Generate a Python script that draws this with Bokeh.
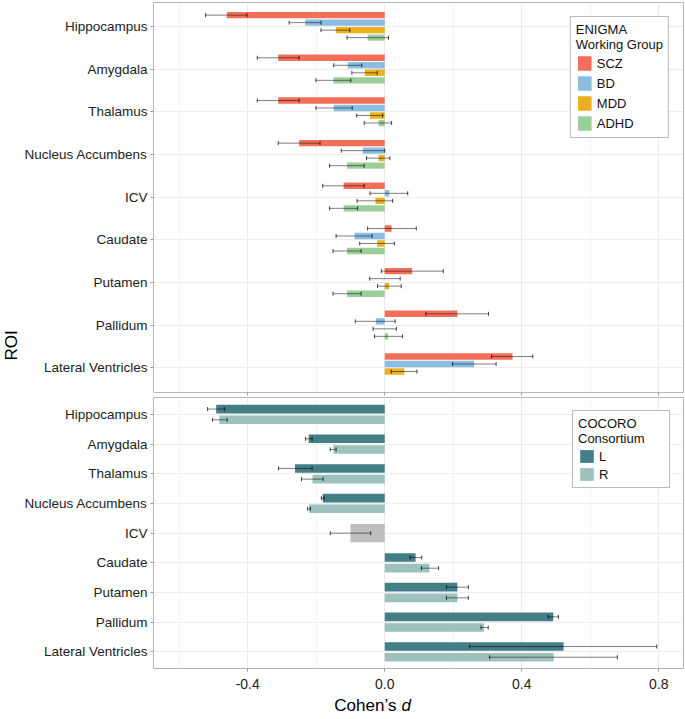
import math
from bokeh.plotting import figure
from bokeh.models import (ColumnDataSource, Range1d, FixedTicker, Whisker, TeeHead,
                          NumeralTickFormatter)
from bokeh.core.properties import value
from bokeh.layouts import column, row
from bokeh.embed import file_html
from bokeh.resources import INLINE

# ---------------- data ----------------
rois = ["Hippocampus", "Amygdala", "Thalamus", "Nucleus Accumbens", "ICV",
        "Caudate", "Putamen", "Pallidum", "Lateral Ventricles"]

enigma_groups = ["SCZ", "BD", "MDD", "ADHD"]
scz_d  = [-0.461, -0.311, -0.311, -0.250, -0.120, 0.020, 0.080, 0.212, 0.373]
scz_lo = [-0.523, -0.372, -0.372, -0.311, -0.181, -0.050, -0.010, 0.120, 0.312]
scz_hi = [-0.402, -0.250, -0.250, -0.189, -0.060, 0.092, 0.171, 0.303, 0.432]
bd_d   = [-0.232, -0.108, -0.149, -0.064, 0.013, -0.088, 0.000, -0.026, 0.261]
bd_lo  = [-0.279, -0.149, -0.201, -0.127, -0.043, -0.142, -0.044, -0.086, 0.198]
bd_hi  = [-0.186, -0.067, -0.095, 0.000, 0.067, -0.037, 0.045, 0.030, 0.325]
mdd_d  = [-0.143, -0.058, -0.043, -0.018, -0.027, -0.022, 0.013, 0.000, 0.057]
mdd_lo = [-0.186, -0.096, -0.082, -0.053, -0.081, -0.073, -0.021, -0.034, 0.019]
mdd_hi = [-0.102, -0.022, -0.006, 0.015, 0.023, 0.028, 0.048, 0.034, 0.094]
adhd_d  = [-0.050, -0.150, -0.018, -0.110, -0.120, -0.110, -0.110, 0.010, None]
adhd_lo = [-0.110, -0.201, -0.060, -0.161, -0.161, -0.151, -0.151, -0.030, None]
adhd_hi = [0.011, -0.099, 0.020, -0.060, -0.079, -0.069, -0.069, 0.052, None]

cocoro_groups = ["L", "R"]
l_d  = [-0.492, -0.222, -0.262, -0.181, None, 0.090, 0.212, 0.492, 0.522]
l_lo = [-0.517, -0.231, -0.310, -0.185, None, 0.074, 0.180, 0.477, 0.248]
l_hi = [-0.468, -0.212, -0.212, -0.177, None, 0.108, 0.244, 0.507, 0.794]
r_d  = [-0.483, -0.150, -0.211, -0.221, None, 0.130, 0.212, 0.290, 0.493]
r_lo = [-0.503, -0.159, -0.243, -0.225, None, 0.107, 0.180, 0.281, 0.306]
r_hi = [-0.460, -0.142, -0.180, -0.217, None, 0.157, 0.244, 0.302, 0.679]
icv_roi = "ICV"
icv_d, icv_lo, icv_hi = -0.100, -0.159, -0.041

x_ticks = [-0.4, 0.0, 0.4, 0.8]
x_minor = [-0.6, -0.2, 0.2, 0.6]

y_title = "ROI"
x_title_main = "Cohen’s"
x_title_symbol = "d"

# ---------------- style ----------------
FONT = "Liberation Sans"
enigma_colors = ["#F36F5A", "#8BBDE3", "#ECB022", "#9BCF9A"]
cocoro_colors = ["#447E86", "#9DC1BD"]
icv_color = "#BEBEBE"
X0, X1 = -0.675, 0.872
ROI_W = 21
W = 685 - ROI_W
LEFT = 153 - ROI_W
H1 = 2 + 390 + 4
H2 = 1 + 271 + 27
H3 = 22
TOTAL = H1 + H2 + H3

ypos = {roi: len(rois) - i for i, roi in enumerate(rois)}
overrides = {len(rois) - i: roi for i, roi in enumerate(rois)}


def style(p, show_x):
    p.outline_line_color = "#B5B5B5"
    p.outline_line_width = 1
    p.background_fill_color = "white"
    p.border_fill_color = "white"
    yax = p.yaxis[0]
    yax.ticker = FixedTicker(ticks=list(range(1, len(rois) + 1)))
    yax.major_label_overrides = overrides
    yax.axis_line_color = None
    yax.major_tick_line_color = "#9A9A9A"
    yax.major_tick_out = 3
    yax.major_tick_in = 0
    yax.minor_tick_line_color = None
    yax.major_label_standoff = 3
    yax.major_label_text_font = FONT
    yax.major_label_text_font_size = "13.5px"
    yax.major_label_text_color = "#222222"
    xax = p.xaxis[0]
    xax.ticker = FixedTicker(ticks=x_ticks, minor_ticks=x_minor)
    xax.formatter = NumeralTickFormatter(format="0.0")
    xax.axis_line_color = None
    xax.major_tick_line_color = "#9A9A9A"
    xax.major_tick_out = 3
    xax.major_tick_in = 0
    xax.minor_tick_line_color = None
    xax.major_label_text_font = FONT
    if show_x:
        xax.major_label_standoff = 6
        xax.major_label_text_font_size = "14px"
        xax.major_label_text_color = "#222222"
    else:
        xax.major_label_standoff = 0
        xax.major_label_text_font_size = "1px"
        xax.major_label_text_alpha = 0
    p.xgrid.grid_line_color = "#EBEBEB"
    p.xgrid.minor_grid_line_color = "#F3F3F3"
    p.ygrid.grid_line_color = "#EDEDED"


def add_whiskers(p, ys, lo, hi):
    src = ColumnDataSource(dict(y=ys, lo=lo, hi=hi))
    w = Whisker(source=src, base="y", lower="lo", upper="hi", dimension="width",
                line_color="black", line_alpha=0.5, line_width=1, level="annotation")
    w.upper_head = TeeHead(size=4, line_color="black", line_alpha=0.75, line_width=1)
    w.lower_head = TeeHead(size=4, line_color="black", line_alpha=0.75, line_width=1)
    p.add_layout(w)


def style_legend(p, title, gh, margin, label_width):
    lg = p.legend[0]
    lg.title = title
    lg.location = "top_right"
    lg.margin = margin
    lg.padding = 5
    lg.spacing = 2
    lg.glyph_width = 17
    lg.glyph_height = gh
    lg.label_standoff = 4
    lg.label_width = label_width
    lg.label_text_font = FONT
    lg.label_text_font_size = "13px"
    lg.label_text_color = "#111111"
    lg.label_height = gh
    lg.title_text_font = FONT
    lg.title_text_font_size = "13px"
    lg.title_text_font_style = "normal"
    lg.title_text_color = "#111111"
    lg.title_standoff = 2
    lg.border_line_color = "#7A7A7A"
    lg.border_line_width = 1
    lg.background_fill_alpha = 1


def blank_figure(width, height, x_range, y_range, left=0, right=0):
    f = figure(width=width, height=height, output_backend="svg", toolbar_location=None,
               x_range=x_range, y_range=y_range, x_axis_location=None, y_axis_location=None,
               min_border_left=left, min_border_right=right, min_border_top=0,
               min_border_bottom=0)
    f.grid.visible = False
    f.outline_line_color = None
    f.background_fill_color = "white"
    f.border_fill_color = "white"
    return f


# ---------------- top panel (ENIGMA) ----------------
p1 = figure(width=W, height=H1, output_backend="svg", toolbar_location=None,
            x_range=Range1d(X0, X1), y_range=Range1d(0.42, 9.56),
            min_border_left=LEFT, min_border_right=2, min_border_top=2, min_border_bottom=4)
style(p1, False)

enigma_series = [(scz_d, scz_lo, scz_hi), (bd_d, bd_lo, bd_hi),
                 (mdd_d, mdd_lo, mdd_hi), (adhd_d, adhd_lo, adhd_hi)]
offsets = [0.264, 0.088, -0.088, -0.264]
for g, col, off, (d, lo, hi) in zip(enigma_groups, enigma_colors, offsets, enigma_series):
    ys, ds, los, his = [], [], [], []
    for roi, dv, lv, hv in zip(rois, d, lo, hi):
        if dv is None:
            continue
        ys.append(ypos[roi] + off)
        ds.append(dv)
        los.append(lv)
        his.append(hv)
    src = ColumnDataSource(dict(y=ys, d=ds))
    p1.hbar(y="y", left=0, right="d", height=0.15, source=src,
            fill_color=col, line_color=None, legend_label=g)
    add_whiskers(p1, ys, los, his)

style_legend(p1, "ENIGMA\nWorking Group", 18, 14, 20)

# ---------------- bottom panel (COCORO) ----------------
p2 = figure(width=W, height=H2, output_backend="svg", toolbar_location=None,
            x_range=p1.x_range, y_range=Range1d(0.44, 9.57),
            min_border_left=LEFT, min_border_right=2, min_border_top=1, min_border_bottom=27)
style(p2, True)

cocoro_series = [(l_d, l_lo, l_hi), (r_d, r_lo, r_hi)]
c_offsets = [0.18, -0.18]
for g, col, off, (d, lo, hi) in zip(cocoro_groups, cocoro_colors, c_offsets, cocoro_series):
    ys, ds, los, his = [], [], [], []
    for roi, dv, lv, hv in zip(rois, d, lo, hi):
        if dv is None:
            continue
        ys.append(ypos[roi] + off)
        ds.append(dv)
        los.append(lv)
        his.append(hv)
    src = ColumnDataSource(dict(y=ys, d=ds))
    p2.hbar(y="y", left=0, right="d", height=0.29, source=src,
            fill_color=col, line_color=None, legend_label=g)
    add_whiskers(p2, ys, los, his)

icv_src = ColumnDataSource(dict(y=[ypos[icv_roi]], d=[icv_d]))
p2.hbar(y="y", left=0, right="d", height=0.62, source=icv_src,
        fill_color=icv_color, line_color=None)
add_whiskers(p2, [ypos[icv_roi]], [icv_lo], [icv_hi])

style_legend(p2, "COCORO\nConsortium", 16, 13, 65)

# ---------------- x-axis title strip ----------------
p3 = blank_figure(W, H3, p1.x_range, Range1d(0, H3), left=LEFT, right=2)
p3.text(x=[0.034], y=[H3 - 10], text=[x_title_main], text_align="right",
        text_baseline="middle", text_font=value(FONT), text_font_size=value("17px"),
        text_color="black")
p3.text(x=[0.049], y=[H3 - 10], text=[x_title_symbol], text_align="left",
        text_baseline="middle", text_font=value(FONT), text_font_size=value("17px"),
        text_font_style=value("italic"), text_color="black")

# ---------------- y-axis title strip ----------------
p0 = blank_figure(ROI_W, TOTAL, Range1d(0, ROI_W), Range1d(0, TOTAL))
p0.text(x=[ROI_W / 2], y=[TOTAL - 345], text=[y_title], angle=math.pi / 2,
        text_align="center", text_baseline="middle", text_font=value(FONT),
        text_font_size=value("17px"), text_color="black")

layout = row(p0, column(p1, p2, p3, spacing=0), spacing=0)
open("out.html", "w").write(file_html(layout, INLINE))
